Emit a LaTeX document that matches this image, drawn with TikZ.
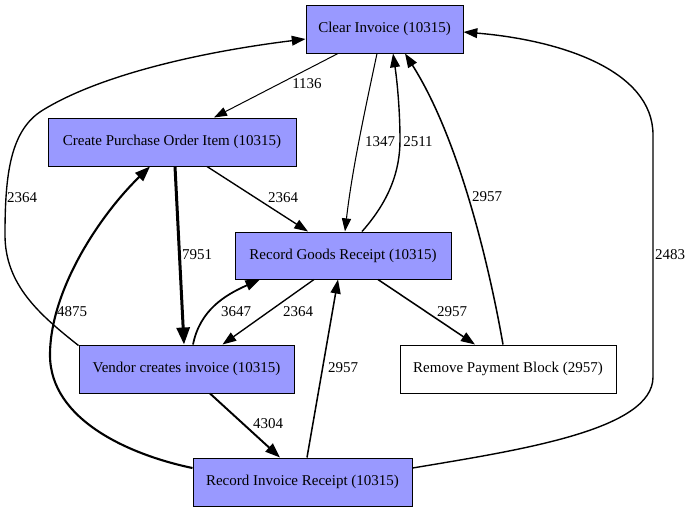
\documentclass[tikz,border=0pt]{standalone}
\usepackage{fontspec}
\setmainfont{Liberation Serif}
\usetikzlibrary{arrows.meta,calc}
\definecolor{actfill}{RGB}{153,153,255}
\newcommand\gvfont{\fontsize{15}{18}\selectfont}
\begin{document}
\begin{tikzpicture}[x=1pt,y=-1pt,
  act/.style={draw=black, fill=actfill, line width=1pt, inner sep=0pt, font=\gvfont, minimum height=48pt},
  plainact/.style={act, fill=white},
  flow/.style={draw=black, line width=#1pt, -{Triangle[length=11pt 2, width=7pt 2]}},
  lab/.style={font=\gvfont, inner sep=0pt}]
\useasboundingbox (0,0) rectangle (692,512);
\fill[white] (0,0) rectangle (692,512);

% nodes
\node[act, minimum width=157pt] (ci) at (384.5,29) {Clear Invoice (10315)};
\node[act, minimum width=248pt] (cpo) at (172,142) {Create Purchase Order Item (10315)};
\node[act, minimum width=216pt, minimum height=47pt] (rgr) at (343,255.5) {Record Goods Receipt (10315)};
\node[plainact, minimum width=216pt] (rpb) at (508,369) {Remove Payment Block (2957)};
\node[act, minimum width=215pt] (vci) at (186.5,369) {Vendor creates invoice (10315)};
\node[act, minimum width=219pt] (rir) at (302.5,482) {Record Invoice Receipt (10315)};

% edges
\draw[flow=1] ($(ci.south)+(-46.5,0)$) -- ($(cpo.north)+(42,0)$);
\node[lab] (l1136) at (307,84) {1136};

\draw[flow=1.36] ($(cpo.south)+(35,0)$) -- ($(rgr.north)+(-35,0)$);
\node[lab] (l2364a) at (283,198) {2364};

\draw[flow=3] ($(cpo.south)+(3,0)$) -- ($(vci.north)+(-2.5,0)$);
\node[lab] (l7951) at (197,255) {7951};

\draw[flow=1.36] ($(vci.north west)+(0,1)$) .. controls (40,315) and (5,285) .. (5,235)
   .. controls (5,175) and (10,130) .. (43,110) .. controls (100,75) and (200,52) .. ($(ci.west)+(0,10)$);
\node[lab] (l2364b) at (22,198) {2364};

\draw[flow=2.1] ($(rir.west)+(0,-14)$) .. controls (130,455) and (50,420) .. (50,355)
   .. controls (50,290) and (100,215) .. ($(cpo.south)+(-22,0)$);
\node[lab] (l4875) at (72,312) {4875};

\draw[flow=1.06] ($(ci.south)+(-7.5,0)$) .. controls (365,110) and (352,170) .. ($(rgr.north)+(2,0)$);
\node[lab] (l1347) at (380,142) {1347};

\draw[flow=1.4] ($(rgr.north)+(19,0)$) .. controls (390,200) and (400,170) .. (400,140)
   .. controls (400,110) and (397,80) .. ($(ci.south)+(8.5,0)$);
\node[lab] (l2511) at (418,142) {2511};

\draw[flow=1.53] ($(rpb.north)+(-5,0)$) .. controls (490,270) and (460,140) .. ($(ci.south)+(20.5,0)$);
\node[lab] (l2957a) at (487,197) {2957};

\draw[flow=1.4] ($(rir.east)+(0,-14)$) .. controls (520,450) and (653,430) .. (653,377)
   -- (653,135) .. controls (653,70) and (560,40) .. ($(ci.east)+(0,3)$);
\node[lab] (l2483) at (670,255) {2483};

\draw[flow=1.53] ($(rgr.south)+(35,0)$) -- ($(rpb.north)+(-33,0)$);
\node[lab] (l2957b) at (452,312) {2957};

\draw[flow=1.36] ($(rgr.south)+(-29,0)$) -- ($(vci.north)+(36,0)$);
\node[lab] (l2364c) at (298,312) {2364};

\draw[flow=1.74] ($(vci.north)+(6.5,0)$) .. controls (200,310) and (225,295) .. ($(rgr.south)+(-83,0)$);
\node[lab] (l3647) at (236,312) {3647};

\draw[flow=1.93] ($(vci.south)+(23.5,0)$) -- ($(rir.north)+(-22.5,0)$);
\node[lab] (l4304) at (268,424) {4304};

\draw[flow=1.53] ($(rir.north)+(4.5,0)$) -- ($(rgr.south)+(-5,0)$);
\node[lab] (l2957c) at (343,368) {2957};
\end{tikzpicture}
\end{document}
